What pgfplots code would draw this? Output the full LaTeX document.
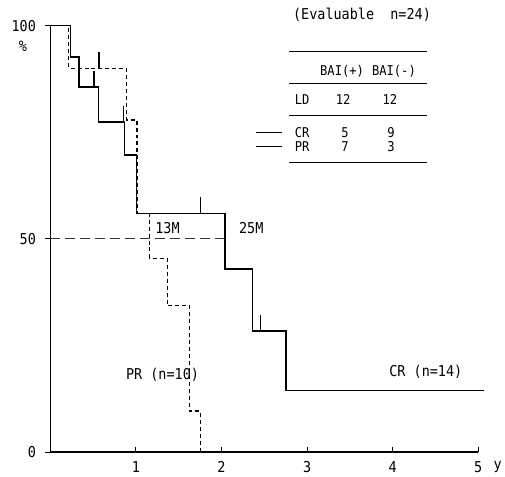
\documentclass[border=0pt]{standalone}
\usepackage{fontspec}
\setmainfont{DejaVu Sans Mono}[FakeStretch=0.9]
\usepackage{pgfplots}
\pgfplotsset{compat=1.18}
\pgfdeclareplotmark{censor}{\pgfpathmoveto{\pgfpoint{0pt}{0pt}}\pgfpathlineto{\pgfpoint{0pt}{16pt}}\pgfusepathqstroke}
\newcommand\bigfnt{\fontsize{15}{17}\selectfont}
\newcommand\smfnt{\fontsize{13.5}{16}\selectfont}
\begin{document}
\begin{tikzpicture}[font=\smfnt]
\begin{axis}[
  x=85.8pt, y=4.276pt,
  xmin=0, xmax=5, ymin=0, ymax=100,
  axis lines=left,
  axis line style={-, line width=1.2pt},
  xtick={1,2,3,4,5}, ytick={0,50,100},
  tick align=inside, major tick length=5pt,
  tick style={black, line width=1pt},
  y tick style={xshift=-5pt},
  /pgf/number format/assume math mode=true,
  ticklabel style={font=\bigfnt},
  xticklabel style={yshift=-6pt},
  yticklabel style={xshift=-11pt},
  clip=false,
]
\path (axis cs:-0.5886,-5.075) rectangle (axis cs:5.2972,106.01);
\addplot[const plot, line width=1.5pt] coordinates {
(0,100)(0.235,92.6)(0.332,85.6)(0.565,77.4)(0.868,69.7)(1.005,56.0)(2.04,42.9)(2.364,28.4)(2.753,14.4)(5.07,14.4)};
\addplot[const plot, line width=1.3pt, dash pattern=on 4pt off 3pt] coordinates {
(0,100)(0.216,90)(0.888,77.9)(1.012,56.0)(1.16,45.4)(1.366,34.3)(1.626,9.6)(1.754,0)};
\addplot[line width=1.1pt, dash pattern=on 10pt off 5pt, black!80] coordinates {(0,50)(2.04,50)};
\addplot[only marks, mark=censor, mark options={line width=1.3pt}] coordinates {(0.51,85.6)(0.857,77.4)(1.754,56)(2.453,28.4)(0.57,90)};
\node[font=\bigfnt] at (axis cs:-0.3205,95.25) {\%};
\node[font=\bigfnt] at (axis cs:5.227,-3.44) {y};
\node[font=\bigfnt] at (axis cs:3.642,102.5) {(Evaluable\ \ n=24)};
\draw[line width=1.1pt] (axis cs:2.791,93.85)--(axis cs:4.399,93.85);
\draw[line width=1.1pt] (axis cs:2.791,86.37)--(axis cs:4.399,86.37);
\draw[line width=1.1pt] (axis cs:2.791,78.88)--(axis cs:4.399,78.88);
\draw[line width=1.1pt] (axis cs:2.791,67.89)--(axis cs:4.399,67.89);
\node at (axis cs:3.409,89.36) {BAI(+)};
\node at (axis cs:4.015,89.36) {BAI(-)};
\node at (axis cs:2.943,82.62) {LD};
\node at (axis cs:3.421,82.62) {12};
\node at (axis cs:3.969,82.62) {12};
\node at (axis cs:2.943,74.91) {CR};
\node at (axis cs:3.444,74.91) {5};
\node at (axis cs:3.980,74.91) {9};
\node at (axis cs:2.943,71.63) {PR};
\node at (axis cs:3.444,71.63) {7};
\node at (axis cs:3.980,71.63) {3};
\draw[line width=1.5pt] (axis cs:2.407,74.91)--(axis cs:2.710,74.91);
\draw[line width=1.1pt] (axis cs:2.407,71.63)--(axis cs:2.710,71.63);
\node[font=\bigfnt] at (axis cs:1.369,52.45) {13M};
\node[font=\bigfnt] at (axis cs:2.348,52.45) {25M};
\node[font=\bigfnt] at (axis cs:1.311,18.08) {PR (n=10)};
\node[font=\bigfnt] at (axis cs:4.388,18.78) {CR (n=14)};
\end{axis}
\end{tikzpicture}
\end{document}
